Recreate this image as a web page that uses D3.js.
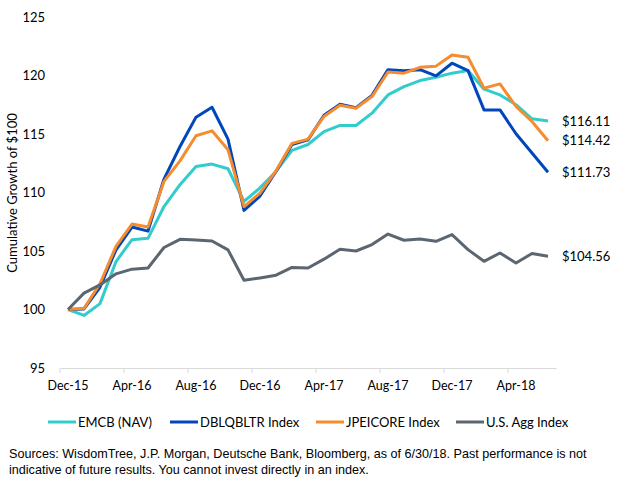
<!DOCTYPE html>
<html>
<head>
<meta charset="utf-8">
<script src="https://cdn.jsdelivr.net/npm/d3@7"></script>
<style>
  html, body { margin: 0; padding: 0; background: #fff; }
  svg { display: block; }
</style>
</head>
<body>
<svg id="chart" width="621" height="491"></svg>
<script>
const months = ["Dec-15","Jan-16","Feb-16","Mar-16","Apr-16","May-16","Jun-16","Jul-16","Aug-16","Sep-16","Oct-16","Nov-16",
  "Dec-16","Jan-17","Feb-17","Mar-17","Apr-17","May-17","Jun-17","Jul-17","Aug-17","Sep-17","Oct-17","Nov-17",
  "Dec-17","Jan-18","Feb-18","Mar-18","Apr-18","May-18","Jun-18"];
const tickLabels = ["Dec-15","Apr-16","Aug-16","Dec-16","Apr-17","Aug-17","Dec-17","Apr-18"];
const yTicks = [95, 100, 105, 110, 115, 120, 125];

const emcb = [100, 99.49, 100.5, 104.1, 105.97, 106.08, 108.8, 110.67, 112.23, 112.43, 112.03, 109.24, 110.4, 111.8, 113.6, 114.1,
  115.21, 115.73, 115.73, 116.78, 118.34, 119.05, 119.57, 119.85, 120.2, 120.42, 118.83, 118.34, 117.5, 116.3, 116.11];
const dblq = [100, 100.05, 101.9, 105.1, 107.05, 106.7, 111.15, 113.93, 116.44, 117.29, 114.56, 108.47, 109.7, 111.8, 114.1, 114.5,
  116.6, 117.55, 117.25, 118.3, 120.5, 120.4, 120.5, 119.97, 121.05, 120.42, 117.06, 117.06, 115.02, 113.37, 111.73];
const jpei = [100, 100.1, 102.2, 105.4, 107.3, 107.05, 110.95, 112.7, 114.85, 115.27, 113.65, 108.8, 109.95, 111.85, 114.2, 114.56,
  116.5, 117.45, 117.2, 118.2, 120.3, 120.2, 120.7, 120.8, 121.76, 121.56, 118.92, 119.28, 117.35, 116.07, 114.42];
const usagg = [100, 101.4, 102.1, 103.05, 103.45, 103.55, 105.3, 106.0, 105.95, 105.86, 105.1, 102.5, 102.7, 102.93, 103.6, 103.55,
  104.3, 105.15, 105.0, 105.55, 106.45, 105.92, 106.03, 105.83, 106.4, 105.12, 104.12, 104.83, 103.98, 104.78, 104.56];

const seriesNames = ["EMCB (NAV)", "DBLQBLTR Index", "JPEICORE Index", "U.S. Agg Index"];
const seriesValues = [emcb, dblq, jpei, usagg];
const seriesColors = ["#33CCCC", "#0047BB", "#F58C2F", "#5B6670"];

const svg = d3.select("#chart");
const labelFont = "Lato, 'Open Sans', sans-serif";

const x = d3.scaleBand().domain(months).range([60, 556]).paddingInner(0).paddingOuter(0);
const bw = x.bandwidth();
const y = d3.scaleLinear().domain([95, 125]).range([368, 17]);

// Y axis labels
const yAxis = svg.append("g").attr("transform", "translate(45,0)")
  .call(d3.axisLeft(y).tickValues(yTicks).tickSize(0).tickPadding(0));
yAxis.select(".domain").remove();
yAxis.selectAll("text").attr("font-family", labelFont).attr("font-size", 13).attr("fill", "#000");

// X axis
const xAxis = svg.append("g").attr("transform", "translate(0,368)")
  .call(d3.axisBottom(x).tickValues(tickLabels).tickSize(5).tickPadding(8).tickSizeOuter(0));
xAxis.select(".domain").attr("stroke", "#D9D9D9").attr("stroke-width", 1);
xAxis.selectAll(".tick line").attr("stroke", "#D9D9D9").attr("x1", -bw / 2).attr("x2", -bw / 2);
xAxis.selectAll("text").attr("font-family", labelFont).attr("font-size", 12.5).attr("fill", "#000");

// Y title
svg.append("text")
  .attr("transform", "translate(17,193) rotate(-90)")
  .attr("text-anchor", "middle")
  .attr("font-family", labelFont).attr("font-size", 13).attr("fill", "#000")
  .text("Cumulative Growth of $100");

// Lines
const line = d3.line()
  .x((d, i) => x(months[i]) + bw / 2)
  .y(d => y(d));

seriesValues.forEach((vals, k) => {
  svg.append("path")
    .datum(vals)
    .attr("fill", "none")
    .attr("stroke", seriesColors[k])
    .attr("stroke-width", 3)
    .attr("stroke-linejoin", "round")
    .attr("d", line);
});

// End labels
seriesValues.forEach((vals, k) => {
  const last = vals[vals.length - 1];
  svg.append("text")
    .attr("x", 562)
    .attr("y", y(last))
    .attr("dy", "0.35em")
    .attr("font-family", labelFont).attr("font-size", 13).attr("fill", "#000")
    .text("$" + last.toFixed(2));
});

// Legend
const legendX = [48, 170, 316, 456];
seriesNames.forEach((name, k) => {
  const g = svg.append("g").attr("transform", `translate(${legendX[k]},422)`);
  g.append("line").attr("x1", 0).attr("x2", 28).attr("y1", 0).attr("y2", 0)
    .attr("stroke", seriesColors[k]).attr("stroke-width", 3);
  g.append("text").attr("x", 30).attr("y", 0).attr("dy", "0.35em")
    .attr("font-family", labelFont).attr("font-size", 13).attr("fill", "#000")
    .text(name);
});

// Source note
const note = svg.append("text")
  .attr("font-family", "'Liberation Sans', Arial, sans-serif").attr("font-size", 12.6).attr("fill", "#000");
note.append("tspan").attr("x", 9).attr("y", 458)
  .text("Sources: WisdomTree, J.P. Morgan, Deutsche Bank, Bloomberg, as of 6/30/18. Past performance is not");
note.append("tspan").attr("x", 9).attr("y", 474)
  .text("indicative of future results. You cannot invest directly in an index.");
</script>
</body>
</html>
